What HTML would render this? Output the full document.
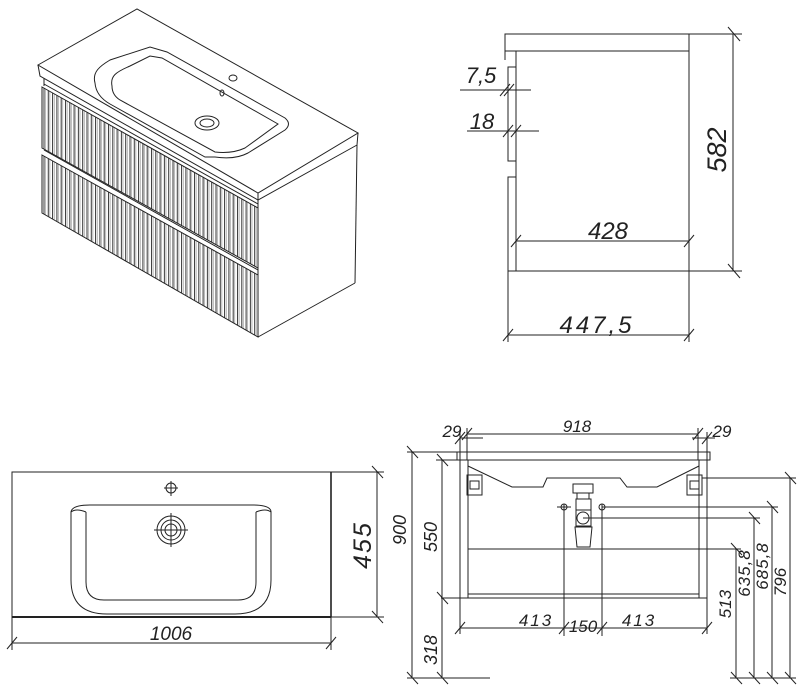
<!DOCTYPE html>
<html><head><meta charset="utf-8"><style>
html,body{margin:0;padding:0;background:#fff}
svg{display:block}
text{font-family:"Liberation Sans Narrow","Liberation Sans",sans-serif;font-style:italic;fill:#222}
</style></head><body>
<svg width="800" height="692" viewBox="0 0 800 692" xmlns="http://www.w3.org/2000/svg">
<defs>
<pattern id="st" patternUnits="userSpaceOnUse" width="4.3" height="10">
<rect width="4.3" height="10" fill="#fff"/>
<line x1="1" y1="0" x2="1" y2="10" stroke="#333" stroke-width="1"/>
<line x1="2.6" y1="0" x2="2.6" y2="10" stroke="#888" stroke-width="0.6"/>
</pattern>
</defs>
<g fill="none" stroke="#222" stroke-width="1">
<!-- ISO VIEW -->
<polygon points="38,65 137,9 358,133 258,193" fill="#fff"/>
<polyline points="38,65 40,76 258,200 357,145 358,133"/>
<line x1="258" y1="193" x2="258" y2="200"/>
<line x1="357" y1="145" x2="355" y2="283"/>
<line x1="258" y1="337" x2="355" y2="283"/>
<line x1="258" y1="200" x2="258" y2="337"/>
<line x1="44" y1="78" x2="44" y2="86"/>
<polygon points="42,87 258,208 258,268 42,148" fill="url(#st)"/>
<polygon points="42,155 258,275 258,337 42,213" fill="url(#st)"/>
<line x1="44" y1="150" x2="258" y2="270"/>
<line x1="44" y1="84" x2="258" y2="204"/>
<path d="M95,83 C92,72 100,66 110,60 L150,47 L167,52 L285,118 Q292,124 285,130 L248,153 Q235,160 215,157 L205,157 L110,104 Q96,96 95,83Z" fill="#fff"/>
<path d="M112,86 C110,76 116,72 130,66 L150,56 L162,58 L278,124 L245,148 Q232,154 215,152 L120,100 Q112,95 112,86Z"/>
<ellipse cx="207" cy="123" rx="12" ry="7"/>
<ellipse cx="207" cy="123" rx="7" ry="4"/>
<ellipse cx="233" cy="78" rx="4" ry="3"/>
<ellipse cx="222" cy="93" rx="2" ry="3"/>

<!-- SIDE VIEW -->
<rect x="505" y="34" width="184" height="17"/>
<rect x="516" y="51" width="173" height="220"/>
<rect x="508" y="67" width="8" height="94"/>
<rect x="508" y="177" width="8" height="94"/>
<line x1="505" y1="51" x2="505" y2="60"/>
<line x1="689" y1="34" x2="742" y2="34"/>
<line x1="689" y1="271" x2="742" y2="271"/>
<line x1="733" y1="34" x2="733" y2="271"/>
<line x1="728" y1="27" x2="740" y2="41"/><line x1="728" y1="264" x2="740" y2="278"/>
<line x1="516" y1="241" x2="689" y2="241"/>
<line x1="511" y1="247" x2="521" y2="235"/><line x1="684" y1="247" x2="694" y2="235"/>
<line x1="508" y1="271" x2="508" y2="342"/><line x1="689" y1="271" x2="689" y2="342"/>
<line x1="508" y1="335" x2="689" y2="335"/>
<line x1="503" y1="341" x2="513" y2="329"/><line x1="684" y1="341" x2="694" y2="329"/>
<line x1="460" y1="90" x2="531" y2="90"/>
<line x1="500" y1="96" x2="510" y2="84"/><line x1="504" y1="96" x2="514" y2="84"/>
<line x1="467" y1="131" x2="539" y2="131"/>
<line x1="503" y1="137" x2="513" y2="125"/><line x1="511" y1="137" x2="521" y2="125"/>

<!-- TOP VIEW -->
<rect x="12" y="472" width="319" height="145"/>
<line x1="12" y1="617" x2="331" y2="617" stroke-width="2"/>
<line x1="331" y1="472" x2="331" y2="617" stroke-width="1.6"/>
<path d="M71,512 Q72,505 90,505 L252,505 Q271,505 271,512 L271,580 Q271,614 235,614 L107,614 Q71,614 71,580Z"/>
<path d="M86,512 L86,582 Q86,600 104,600 L238,600 Q256,600 256,582 L256,512"/>
<path d="M71,512 Q76,508 86,512 M256,512 Q266,508 271,512"/>
<circle cx="171" cy="488" r="5"/>
<line x1="164" y1="488" x2="178" y2="488"/><line x1="171" y1="481" x2="171" y2="496"/>
<circle cx="171" cy="530" r="14"/><circle cx="171" cy="530" r="10"/><circle cx="171" cy="530" r="6"/>
<line x1="154" y1="530" x2="188" y2="530"/><line x1="171" y1="513" x2="171" y2="547"/>
<line x1="331" y1="472" x2="384" y2="472"/><line x1="331" y1="617" x2="384" y2="617"/>
<line x1="377" y1="472" x2="377" y2="617"/>
<line x1="372" y1="466" x2="383" y2="478"/><line x1="372" y1="611" x2="383" y2="623"/>
<line x1="12" y1="617" x2="12" y2="650"/><line x1="331" y1="617" x2="331" y2="650"/>
<line x1="12" y1="643" x2="331" y2="643"/>
<line x1="7" y1="649" x2="17" y2="637"/><line x1="326" y1="649" x2="336" y2="637"/>

<!-- FRONT VIEW -->
<rect x="457" y="452" width="253" height="8"/>
<rect x="460" y="460" width="8" height="138"/>
<rect x="699" y="460" width="8" height="138"/>
<line x1="468" y1="549" x2="699" y2="549"/>
<line x1="468" y1="594" x2="699" y2="594"/>
<line x1="441" y1="598" x2="707" y2="598"/>
<polyline points="468,466 512,487 543,487 547,478 620,478 627,487 657,487 699,466"/>
<line x1="547" y1="478" x2="620" y2="478"/>
<rect x="467" y="475" width="15" height="20"/><rect x="470" y="481" width="9" height="8"/>
<rect x="687" y="475" width="15" height="20"/><rect x="690" y="481" width="9" height="8"/>
<rect x="573" y="484" width="20" height="9"/>
<rect x="577" y="493" width="12" height="6"/>
<rect x="576" y="499" width="15" height="11"/>
<circle cx="583" cy="518" r="6"/><rect x="576" y="510" width="15" height="16"/>
<polygon points="575,527 592,527 590,547 577,547"/>
<circle cx="564" cy="507" r="3"/><circle cx="602" cy="507" r="3"/>
<line x1="557" y1="507" x2="571" y2="507"/><line x1="602" y1="507" x2="778" y2="507"/>
<line x1="583" y1="518" x2="760" y2="518"/>
<line x1="702" y1="478" x2="796" y2="478"/>
<line x1="699" y1="549" x2="741" y2="549"/>
<line x1="564" y1="504" x2="564" y2="636"/><line x1="602" y1="504" x2="602" y2="636"/>
<line x1="460" y1="628" x2="707" y2="628"/>
<line x1="455" y1="634" x2="465" y2="622"/><line x1="559" y1="634" x2="569" y2="622"/>
<line x1="597" y1="634" x2="607" y2="622"/><line x1="702" y1="634" x2="712" y2="622"/>
<line x1="460" y1="598" x2="460" y2="634"/><line x1="707" y1="598" x2="707" y2="634"/>
<line x1="460" y1="438" x2="483" y2="438"/>
<line x1="467" y1="434" x2="698" y2="434"/>
<line x1="692" y1="438" x2="715" y2="438"/>
<line x1="467" y1="428" x2="467" y2="460"/><line x1="460" y1="432" x2="460" y2="460"/>
<line x1="698" y1="428" x2="698" y2="460"/><line x1="707" y1="432" x2="707" y2="460"/>
<line x1="455" y1="444" x2="465" y2="432"/><line x1="462" y1="440" x2="472" y2="428"/>
<line x1="693" y1="440" x2="703" y2="428"/><line x1="702" y1="444" x2="712" y2="432"/>
<line x1="407" y1="452" x2="457" y2="452"/>
<line x1="412" y1="452" x2="412" y2="678"/>
<line x1="407" y1="446" x2="418" y2="458"/><line x1="407" y1="672" x2="418" y2="684"/>
<line x1="436" y1="460" x2="460" y2="460"/>
<line x1="442" y1="460" x2="442" y2="678"/>
<line x1="437" y1="454" x2="448" y2="466"/><line x1="437" y1="592" x2="448" y2="604"/><line x1="437" y1="672" x2="448" y2="684"/>
<line x1="407" y1="678" x2="490" y2="678"/>
<line x1="730" y1="678" x2="796" y2="678"/>
<line x1="736" y1="549" x2="736" y2="678"/>
<line x1="754" y1="518" x2="754" y2="678"/>
<line x1="772" y1="507" x2="772" y2="678"/>
<line x1="790" y1="478" x2="790" y2="678"/>
<line x1="731" y1="543" x2="742" y2="555"/><line x1="749" y1="512" x2="760" y2="524"/>
<line x1="767" y1="501" x2="778" y2="513"/><line x1="785" y1="472" x2="796" y2="484"/>
<line x1="731" y1="672" x2="742" y2="684"/><line x1="749" y1="672" x2="760" y2="684"/>
<line x1="767" y1="672" x2="778" y2="684"/><line x1="785" y1="672" x2="796" y2="684"/>
</g>
<!-- TEXT -->
<g>
<text x="726" y="150" font-size="27" text-anchor="middle" transform="rotate(-90 726 150)">582</text>
<text x="608" y="239" font-size="24" text-anchor="middle">428</text>
<text x="597" y="333" font-size="24" text-anchor="middle" letter-spacing="3">447,5</text>
<text x="481" y="83" font-size="22" text-anchor="middle">7,5</text>
<text x="482" y="129" font-size="22" text-anchor="middle">18</text>
<text x="371" y="545" font-size="25" text-anchor="middle" transform="rotate(-90 371 545)" letter-spacing="2">455</text>
<text x="171" y="640" font-size="19" text-anchor="middle">1006</text>
<text x="577" y="432" font-size="17" text-anchor="middle">918</text>
<text x="452" y="437" font-size="17" text-anchor="middle">29</text>
<text x="722" y="437" font-size="17" text-anchor="middle">29</text>
<text x="406" y="530" font-size="18" text-anchor="middle" transform="rotate(-90 406 530)">900</text>
<text x="437" y="537" font-size="18" text-anchor="middle" transform="rotate(-90 437 537)">550</text>
<text x="437" y="650" font-size="18" text-anchor="middle" transform="rotate(-90 437 650)">318</text>
<text x="536" y="626" font-size="17" text-anchor="middle" letter-spacing="2">413</text>
<text x="583" y="632" font-size="17" text-anchor="middle">150</text>
<text x="639" y="626" font-size="17" text-anchor="middle" letter-spacing="2">413</text>
<text x="731" y="604" font-size="17" text-anchor="middle" transform="rotate(-90 731 604)">513</text>
<text x="750" y="573" font-size="17" text-anchor="middle" transform="rotate(-90 750 573)" letter-spacing="1">635,8</text>
<text x="768" y="566" font-size="17" text-anchor="middle" transform="rotate(-90 768 566)" letter-spacing="1">685,8</text>
<text x="786" y="582" font-size="17" text-anchor="middle" transform="rotate(-90 786 582)">796</text>
</g>
</svg>
</body></html>
